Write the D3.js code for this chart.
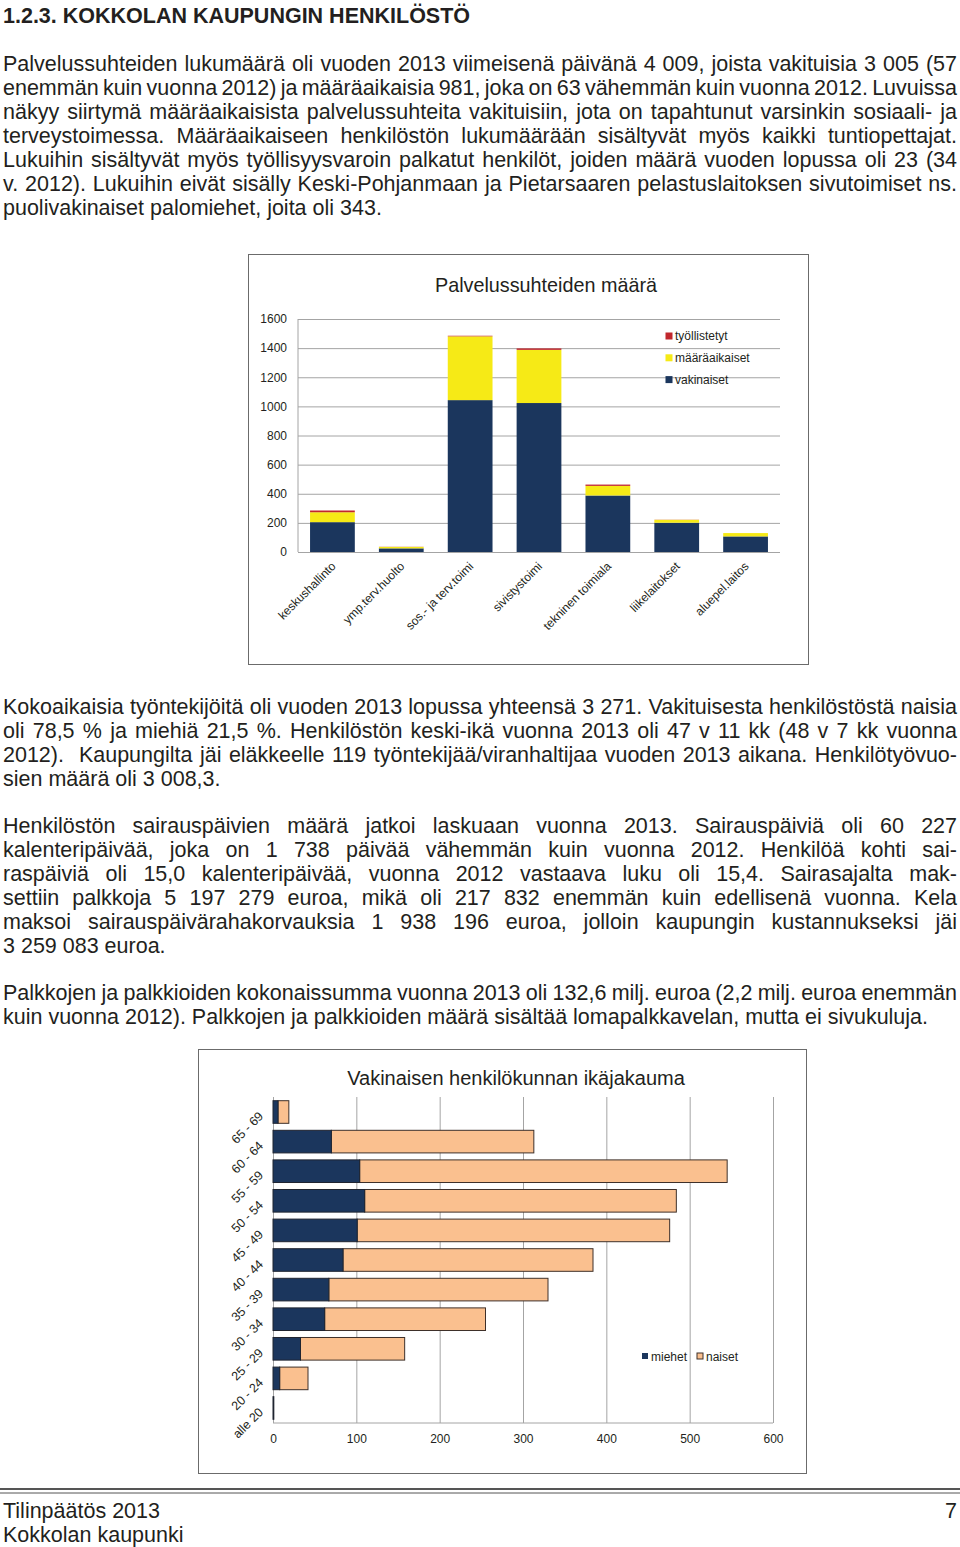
<!DOCTYPE html>
<html>
<head>
<meta charset="utf-8">
<script src="https://cdn.jsdelivr.net/npm/d3@7"></script>
<style>
  body { margin: 0; background: #fff; }
  svg { display: block; }
  text { font-family: "Liberation Sans", Arial, Helvetica, sans-serif; fill: #231f20; }
</style>
</head>
<body>
<svg id="page" width="960" height="1547"></svg>
<script>
    "use strict";

    // --- Palvelussuhteiden määrä (pinottu pylväs) ---
    var departments = ["keskushallinto", "ymp.terv.huolto", "sos.- ja terv.toimi", "sivistystoimi",
        "tekninen toimiala", "liikelaitokset", "aluepel.laitos"];
    var vakinaiset = [205, 25, 1043, 1023, 388, 201, 107];
    var maaraaikaiset = [68, 10, 438, 365, 66, 20, 23];
    var tyollistetyt = [12, 1, 4, 10, 9, 1, 0];
    var yTicks1 = [0, 200, 400, 600, 800, 1000, 1200, 1400, 1600];

    // --- Vakinaisen henkilökunnan ikäjakauma (vaaka) ---
    var ageGroups = ["alle 20", "20 - 24", "25 - 29", "30 - 34", "35 - 39", "40 - 44",
        "45 - 49", "50 - 54", "55 - 59", "60 - 64", "65 - 69"];
    var miehet = [1, 8, 33, 62, 67, 84, 101, 110, 104, 70, 6];
    var naiset = [0, 34, 125, 193, 263, 300, 375, 374, 441, 243, 13];
    var xTicks2 = [0, 100, 200, 300, 400, 500, 600];

    var NAVY = "#1b365d", YELLOW = "#f6ea16", RED = "#c1272d", PEACH = "#fac08f";

    var svg = d3.select("#page");

    // rivi tasattuna molempiin reunoihin (sanavälit venyvät)
    var justifyLine = function (str, x0, x1, y, size, justify) {
        var t = svg.append("text").style("font-size", size + "px");
        if (!justify) {
            t.attr("x", x0).attr("y", y).text(str);
            return;
        }
        t.attr("transform", "translate(" + x0 + "," + y + ")");
        var words = str.split(" ");
        var spans = words.map(function (w) { return t.append("tspan").text(w); });
        var widths = spans.map(function (s) { return s.node().getComputedTextLength(); });
        var total = d3.sum(widths);
        var target = x1 - x0;
        var gaps = words.length - 1;
        var gap = (target - total) / gaps;
        var minGap = size * 0.16;
        if (gap < minGap) {
            var k = target / (total + minGap * gaps);
            t.attr("transform", "translate(" + x0 + "," + y + ") scale(" + k + ",1)");
            gap = minGap;
        }
        var pos = 0;
        spans.forEach(function (s, i) {
            s.attr("x", pos).attr("y", 0);
            pos += widths[i] + gap;
        });
    };

    var paragraph = function (lines, y0, lead) {
        lines.forEach(function (l, i) {
            justifyLine(l, 3, 957, y0 + i * lead, 21.5, i < lines.length - 1);
        });
    };

    svg.append("text").attr("x", 3).attr("y", 23)
        .style("font-size", "21.5px").style("font-weight", "bold")
        .text("1.2.3. KOKKOLAN KAUPUNGIN HENKILÖSTÖ");

    paragraph([
        "Palvelussuhteiden lukumäärä oli vuoden 2013 viimeisenä päivänä 4 009, joista vakituisia 3 005 (57",
        "enemmän kuin vuonna 2012) ja määräaikaisia 981, joka on 63 vähemmän kuin vuonna 2012. Luvuissa",
        "näkyy siirtymä määräaikaisista palvelussuhteita vakituisiin, jota on tapahtunut varsinkin sosiaali- ja",
        "terveystoimessa. Määräaikaiseen henkilöstön lukumäärään sisältyvät myös kaikki tuntiopettajat.",
        "Lukuihin sisältyvät myös työllisyysvaroin palkatut henkilöt, joiden määrä vuoden lopussa oli 23 (34",
        "v. 2012). Lukuihin eivät sisälly Keski-Pohjanmaan ja Pietarsaaren pelastuslaitoksen sivutoimiset ns.",
        "puolivakinaiset palomiehet, joita oli 343."
    ], 71, 24);

    paragraph([
        "Kokoaikaisia työntekijöitä oli vuoden 2013 lopussa yhteensä 3 271. Vakituisesta henkilöstöstä naisia",
        "oli 78,5 % ja miehiä 21,5 %. Henkilöstön keski-ikä vuonna 2013 oli 47 v 11 kk (48 v 7 kk vuonna",
        "2012).  Kaupungilta jäi eläkkeelle 119 työntekijää/viranhaltijaa vuoden 2013 aikana. Henkilötyövuo-",
        "sien määrä oli 3 008,3."
    ], 714, 24);

    paragraph([
        "Henkilöstön sairauspäivien määrä jatkoi laskuaan vuonna 2013. Sairauspäiviä oli 60 227",
        "kalenteripäivää, joka on 1 738 päivää vähemmän kuin vuonna 2012. Henkilöä kohti sai-",
        "raspäiviä oli 15,0 kalenteripäivää, vuonna 2012 vastaava luku oli 15,4. Sairasajalta mak-",
        "settiin palkkoja 5 197 279 euroa, mikä oli 217 832 enemmän kuin edellisenä vuonna. Kela",
        "maksoi sairauspäivärahakorvauksia 1 938 196 euroa, jolloin kaupungin kustannukseksi jäi",
        "3 259 083 euroa."
    ], 833, 24);

    paragraph([
        "Palkkojen ja palkkioiden kokonaissumma vuonna 2013 oli 132,6 milj. euroa (2,2 milj. euroa enemmän",
        "kuin vuonna 2012). Palkkojen ja palkkioiden määrä sisältää lomapalkkavelan, mutta ei sivukuluja."
    ], 1000, 24);

    // ===== kaavio 1 =====
    var c1 = svg.append("g");
    c1.append("rect").attr("x", 248.5).attr("y", 254.5).attr("width", 560).attr("height", 410)
        .attr("fill", "#fff").attr("stroke", "#6b6b6b");
    c1.append("text").attr("x", 546).attr("y", 292).attr("text-anchor", "middle")
        .style("font-size", "19.8px").text("Palvelussuhteiden määrä");

    var x1 = d3.scaleBand().domain(departments).range([298, 780]).paddingInner(0.35).paddingOuter(0.175);
    var y1 = d3.scaleLinear().domain([0, 1600]).range([552, 319]);

    var yAxis1 = c1.append("g").attr("transform", "translate(298,0)")
        .call(d3.axisLeft(y1).tickValues(yTicks1).tickSize(-(780 - 298)).tickPadding(11).tickFormat(d3.format("d")));
    yAxis1.select(".domain").remove();
    yAxis1.selectAll(".tick line").attr("stroke", "#a4a4a4");
    yAxis1.selectAll(".tick text").style("font-size", "12px").style("font-family", null).attr("fill", "#231f20");
    c1.append("line").attr("x1", 298).attr("x2", 298).attr("y1", 319).attr("y2", 552).attr("stroke", "#a4a4a4");

    var rows1 = departments.map(function (d, i) {
        return { dep: d, vakinaiset: vakinaiset[i], maaraaikaiset: maaraaikaiset[i], tyollistetyt: tyollistetyt[i] };
    });
    var keys1 = ["vakinaiset", "maaraaikaiset", "tyollistetyt"];
    var colors1 = d3.scaleOrdinal().domain(keys1).range([NAVY, YELLOW, RED]);
    var stacked1 = d3.stack().keys(keys1)(rows1);

    c1.selectAll("g.layer").data(stacked1).enter().append("g").attr("class", "layer")
        .attr("fill", function (s) { return colors1(s.key); })
        .selectAll("rect").data(function (s) { return s; }).enter().append("rect")
        .attr("x", function (d) { return x1(d.data.dep); })
        .attr("width", x1.bandwidth())
        .attr("y", function (d) { return y1(d[1]); })
        .attr("height", function (d) { return y1(d[0]) - y1(d[1]); });

    c1.selectAll("text.xlab").data(departments).enter().append("text").attr("class", "xlab")
        .attr("text-anchor", "end").style("font-size", "12px")
        .attr("transform", function (d) {
            return "translate(" + (x1(d) + x1.bandwidth() / 2 + 4) + ",567) rotate(-45)";
        })
        .text(function (d) { return d; });

    var legend1 = [
        { key: "tyollistetyt", label: "työllistetyt" },
        { key: "maaraaikaiset", label: "määräaikaiset" },
        { key: "vakinaiset", label: "vakinaiset" }
    ];
    var lg1 = c1.selectAll("g.lg").data(legend1).enter().append("g").attr("class", "lg")
        .attr("transform", function (d, i) { return "translate(665.5," + (332.5 + i * 21.8) + ")"; });
    lg1.append("rect").attr("width", 7).attr("height", 7).attr("fill", function (d) { return colors1(d.key); });
    lg1.append("text").attr("x", 9.5).attr("y", 7.5).style("font-size", "12px").text(function (d) { return d.label; });

    // ===== kaavio 2 =====
    var c2 = svg.append("g");
    c2.append("rect").attr("x", 198.5).attr("y", 1049.5).attr("width", 608).attr("height", 424)
        .attr("fill", "#fff").attr("stroke", "#6b6b6b");
    c2.append("text").attr("x", 516).attr("y", 1085).attr("text-anchor", "middle")
        .style("font-size", "20px").text("Vakinaisen henkilökunnan ikäjakauma");

    var x2 = d3.scaleLinear().domain([0, 600]).range([273, 773]);
    var y2 = d3.scaleBand().domain(ageGroups).range([1423, 1097]).paddingInner(0.236).paddingOuter(0.125);

    var xAxis2 = c2.append("g").attr("transform", "translate(0,1423)")
        .call(d3.axisBottom(x2).tickValues(xTicks2).tickSize(-(1423 - 1097)).tickPadding(11));
    xAxis2.select(".domain").remove();
    xAxis2.selectAll(".tick line").attr("stroke", "#a4a4a4");
    xAxis2.selectAll(".tick text").style("font-size", "12px").style("font-family", null).attr("fill", "#231f20");
    c2.append("line").attr("x1", 273).attr("x2", 773).attr("y1", 1423).attr("y2", 1423).attr("stroke", "#a4a4a4");

    var rows2 = ageGroups.map(function (a, i) { return { age: a, m: miehet[i], n: naiset[i] }; });
    var bars2 = c2.selectAll("g.bar").data(rows2).enter().append("g").attr("class", "bar");
    bars2.append("rect")
        .attr("x", function (d) { return x2(d.m); })
        .attr("width", function (d) { return x2(d.m + d.n) - x2(d.m); })
        .attr("y", function (d) { return y2(d.age); })
        .attr("height", y2.bandwidth())
        .attr("fill", PEACH).attr("stroke", "#3e302a").attr("stroke-width", 1);
    bars2.append("rect")
        .attr("x", x2(0))
        .attr("width", function (d) { return x2(d.m) - x2(0); })
        .attr("y", function (d) { return y2(d.age); })
        .attr("height", y2.bandwidth())
        .attr("fill", NAVY).attr("stroke", "#1f2430").attr("stroke-width", 1);

    c2.selectAll("text.ylab").data(ageGroups).enter().append("text").attr("class", "ylab")
        .attr("text-anchor", "end").style("font-size", "12.5px")
        .attr("transform", function (d) {
            return "translate(264," + (y2(d) + y2.bandwidth() / 2 + 5) + ") rotate(-45)";
        })
        .text(function (d) { return d; });

    var legend2 = [
        { label: "miehet", fill: NAVY, stroke: "none", x: 642 },
        { label: "naiset", fill: PEACH, stroke: "#3e302a", x: 697 }
    ];
    var lg2 = c2.selectAll("g.lg").data(legend2).enter().append("g").attr("class", "lg")
        .attr("transform", function (d) { return "translate(" + d.x + ",1353)"; });
    lg2.append("rect").attr("width", 6).attr("height", 6)
        .attr("fill", function (d) { return d.fill; }).attr("stroke", function (d) { return d.stroke; });
    lg2.append("text").attr("x", 9).attr("y", 8).style("font-size", "12px").text(function (d) { return d.label; });

    // ===== alatunniste =====
    svg.append("line").attr("x1", 0).attr("x2", 960).attr("y1", 1489).attr("y2", 1489)
        .attr("stroke", "#555").attr("stroke-width", 2);
    svg.append("line").attr("x1", 0).attr("x2", 960).attr("y1", 1493).attr("y2", 1493)
        .attr("stroke", "#555").attr("stroke-width", 1);
    svg.append("text").attr("x", 3).attr("y", 1518).style("font-size", "21.5px").text("Tilinpäätös 2013");
    svg.append("text").attr("x", 3).attr("y", 1542).style("font-size", "21.5px").text("Kokkolan kaupunki");
    svg.append("text").attr("x", 957).attr("y", 1518).attr("text-anchor", "end").style("font-size", "21.5px").text("7");
</script>
</body>
</html>
